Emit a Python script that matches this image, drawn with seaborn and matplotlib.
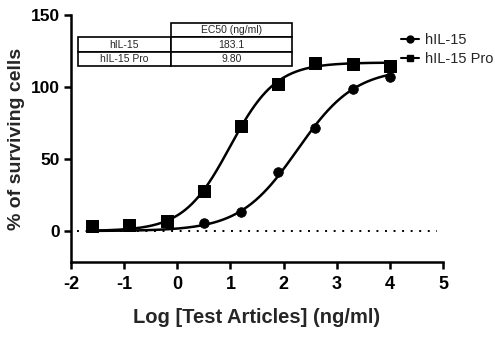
import numpy as np
import pandas as pd
import matplotlib
matplotlib.use("Agg")
import matplotlib.pyplot as plt
from matplotlib.lines import Line2D
import seaborn as sns

# ---- data ----
log_conc_pro = [-1.6, -0.9, -0.2, 0.5, 1.2, 1.9, 2.6, 3.3, 4.0]
pro_values = [3.7, 4.2, 6.9, 27.8, 72.9, 102.0, 117.0, 115.7, 114.8]
log_conc_il15 = [0.5, 1.2, 1.9, 2.6, 3.3, 4.0]
il15_values = [5.8, 13.4, 40.7, 71.3, 98.6, 106.7]

series_names = ["hIL-15", "hIL-15 Pro"]
ec50_labels = ["183.1", "9.80"]
# 4PL fit parameters (bottom, top, hill); EC50 from table
fit_bottom = [0.0, 0.0]
fit_top = [113.0, 117.0]
fit_hill = [0.8, 1.0]
fit_ec50 = [183.1, 9.80]

x_ticks = [-2, -1, 0, 1, 2, 3, 4, 5]
y_ticks = [0, 50, 100, 150]

sns.set_style("ticks")
plt.rcParams['font.family'] = ['Liberation Sans', 'DejaVu Sans']

fig = plt.figure(figsize=(4.95, 3.38), dpi=100)
ax = fig.add_axes([71/495, (338-262)/338, (443-71)/495, (262-15)/338])

# fitted curves
xfit = np.linspace(-1.6, 4.0, 300)
rows = []
for name, b, t, h, e in zip(series_names, fit_bottom, fit_top, fit_hill, fit_ec50):
    yfit = b + (t - b) / (1 + 10 ** (h * (np.log10(e) - xfit)))
    rows.append(pd.DataFrame({"x": xfit, "y": yfit, "s": name}))
fit_df = pd.concat(rows)
sns.lineplot(data=fit_df, x="x", y="y", hue="s", palette=["black", "black"],
             linewidth=1.8, legend=False, ax=ax, sort=False)

ax.axhline(0, xmin=0.015, xmax=0.985, color="black", linestyle=(0, (1, 3.4)),
           linewidth=1.4, zorder=1)

il_df = pd.DataFrame({"x": log_conc_il15, "y": il15_values})
pro_df = pd.DataFrame({"x": log_conc_pro, "y": pro_values})
sns.scatterplot(data=il_df, x="x", y="y", marker="o", s=48, color="black",
                edgecolor="black", ax=ax, zorder=3)
sns.scatterplot(data=pro_df, x="x", y="y", marker="s", s=80, color="black",
                edgecolor="black", ax=ax, zorder=4)

ax.set_xlim(-2, 5)
ax.set_ylim(-21.5, 150)
ax.set_xticks(x_ticks)
ax.set_xticklabels([str(v) for v in x_ticks])
ax.set_yticks(y_ticks)
ax.set_yticklabels([str(v) for v in y_ticks])
for lab in ax.get_xticklabels():
    lab.set_fontweight("bold")
    lab.set_fontsize(13)
for lab in ax.get_yticklabels():
    lab.set_fontweight("bold")
    lab.set_fontsize(12.5)
ax.tick_params(axis="both", length=5, width=1.8, colors="black", pad=3)
ax.tick_params(axis="x", pad=5)
for sp in ["left", "bottom"]:
    ax.spines[sp].set_linewidth(1.8)
    ax.spines[sp].set_color("black")
sns.despine(ax=ax)

ax.set_xlabel("Log [Test Articles] (ng/ml)", fontsize=14.5, fontweight="bold", labelpad=11)
ax.set_ylabel("% of surviving cells", fontsize=14, fontweight="bold", labelpad=4)

# legend
handles = [Line2D([0], [0], color="black", marker="o", markersize=5, linewidth=1.5),
           Line2D([0], [0], color="black", marker="s", markersize=5, linewidth=1.5)]
fig.legend(handles, series_names, loc="upper left", bbox_to_anchor=(401/495, 1 - 33/338),
           frameon=False, fontsize=10.5, handlelength=1.2, handletextpad=0.45,
           labelspacing=0.32, borderaxespad=0, borderpad=0)

# EC50 table
cell_text = [["", "EC50 (ng/ml)"],
             [series_names[0], ec50_labels[0]],
             [series_names[1], ec50_labels[1]]]
x0 = (78 - 71) / 372
x1 = (292 - 71) / 372
y_top = 1 - (23 - 15) / 247
y_bot = 1 - (66 - 15) / 247
tbl = ax.table(cellText=cell_text, cellLoc="center",
               colWidths=[93 / 214, 121 / 214],
               bbox=[x0, y_bot, x1 - x0, y_top - y_bot])
tbl.auto_set_font_size(False)
for (r, c), cell in tbl.get_celld().items():
    cell.set_linewidth(1.2)
    cell.set_edgecolor("black")
    cell.get_text().set_fontsize(7.5)
    if r == 0 and c == 0:
        cell.visible_edges = ""
tbl.get_celld()[(0, 0)].set_linewidth(0)

fig.savefig("out.png", dpi=100)
